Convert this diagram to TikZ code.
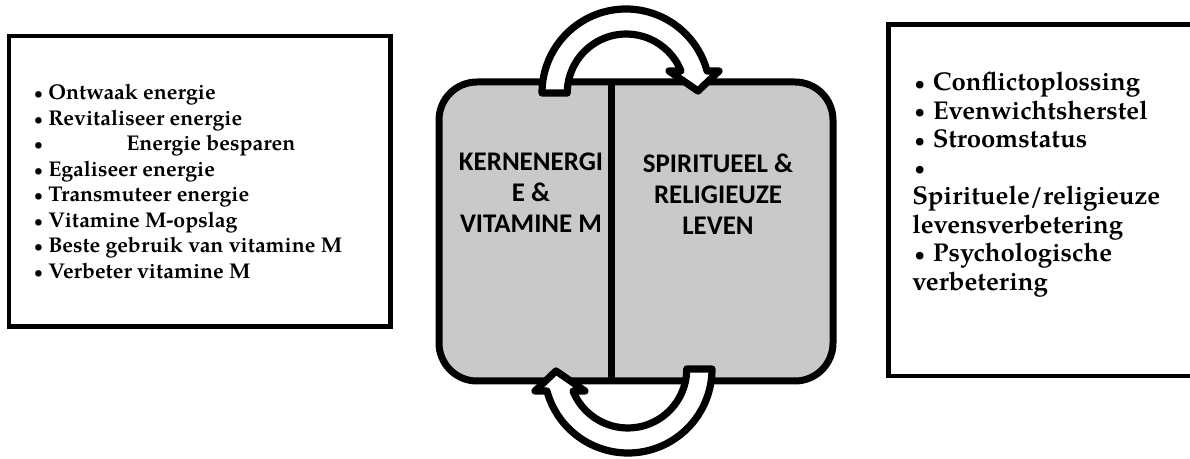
\documentclass[tikz,border=0pt]{standalone}
\usepackage{fontspec}
\newfontfamily\pagella{texgyrepagella}[Extension=.otf,UprightFont=*-regular,BoldFont=*-bold]
\newfontfamily\carlito{Carlito}
\definecolor{boxgray}{HTML}{C9C9C9}
\newcommand\lbul{\makebox[12pt][l]{\kern1.3pt\raisebox{1.1pt}{\fontsize{11}{11}\selectfont•}}}
\newcommand\rbul{\makebox[15.5pt][l]{\kern1.8pt\raisebox{1.2pt}{\fontsize{13}{13}\selectfont•}}}
\tikzset{
  frame/.style={draw=black, line width=3.4pt, fill=white},
  midbox/.style={draw=black, line width=5.25pt, fill=boxgray, rounded corners=28.5pt},
  divider/.style={draw=black, line width=5.25pt},
  lst/.style={anchor=base west, inner sep=0pt, font=\pagella\bfseries\fontsize{16}{19}\selectfont},
  rlst/.style={anchor=base west, inner sep=0pt, font=\pagella\bfseries\fontsize{19.3}{22}\selectfont},
  midtxt/.style={anchor=base, inner sep=0pt, font=\carlito\bfseries\fontsize{20.2}{24}\selectfont},
  cyclearrow/.style={draw=black, fill=white, line width=5.4pt, line join=round}
}
\begin{document}
\begin{tikzpicture}[x=0.75pt,y=-0.75pt]
\useasboundingbox (0,0) rectangle (1190,459);
\clip (0,0) rectangle (1190,459);
% side boxes
\draw[frame] (9,36) rectangle (390.5,326.5);
\draw[frame] (888.5,24.5) rectangle (1200,376);
% middle box
\draw[midbox] (439,82) rectangle (833,381);
\draw[divider] (611,82) -- (611,381);
% left list
\node[lst] (l1) at (32,100) {\lbul Ontwaak energie};
\node[lst] (l2) at (32,125.5) {\lbul Revitaliseer energie};
\node[lst] (l3) at (32,151) {\makebox[70.5pt][l]{\lbul}Energie besparen};
\node[lst] (l4) at (32,176.5) {\lbul Egaliseer energie};
\node[lst] (l5) at (32,202) {\lbul Transmuteer energie};
\node[lst] (l6) at (32,227.5) {\lbul Vitamine M-opslag};
\node[lst] (l7) at (32,253) {\lbul Beste gebruik van vitamine M};
\node[lst] (l8) at (32,278.5) {\lbul Verbeter vitamine M};
% right list
\node[rlst] (r1) at (912,91) {\rbul Conflictoplossing};
\node[rlst] (r2) at (912,119.5) {\rbul Evenwichtsherstel};
\node[rlst] (r3) at (912,148) {\rbul Stroomstatus};
\node[rlst] (r4) at (912,176.5) {\rbul};
\node[rlst] (r5) at (912,205) {Spirituele/religieuze};
\node[rlst] (r6) at (912,233.5) {levensverbetering};
\node[rlst] (r7) at (912,262) {\rbul Psychologische};
\node[rlst] (r8) at (912,290.5) {verbetering};
% middle texts
\node[midtxt] (k1) at (531,171) {KERNENERGI};
\node[midtxt] (k2) at (531,202) {E \&};
\node[midtxt] (k3) at (531,233) {VITAMINE M};
\node[midtxt] (s1) at (718,172.5) {SPIRITUEEL \&};
\node[midtxt] (s2) at (718,203.5) {RELIGIEUZE};
\node[midtxt] (s3) at (718,234.5) {LEVEN};
% circular arrows
\path[cyclearrow] (542,93) arc[start angle=180,end angle=344.8,radius=84]
  -- (719,71) -- (698,91) -- (669,71) -- (681,71)
  arc[start angle=338.1,end angle=180,radius=59] -- cycle;
\begin{scope}[rotate around={180:(627,231)}]
\path[cyclearrow] (542,93) arc[start angle=180,end angle=344.8,radius=84]
  -- (719,71) -- (698,91) -- (669,71) -- (681,71)
  arc[start angle=338.1,end angle=180,radius=59] -- cycle;
\end{scope}
\end{tikzpicture}
\end{document}
